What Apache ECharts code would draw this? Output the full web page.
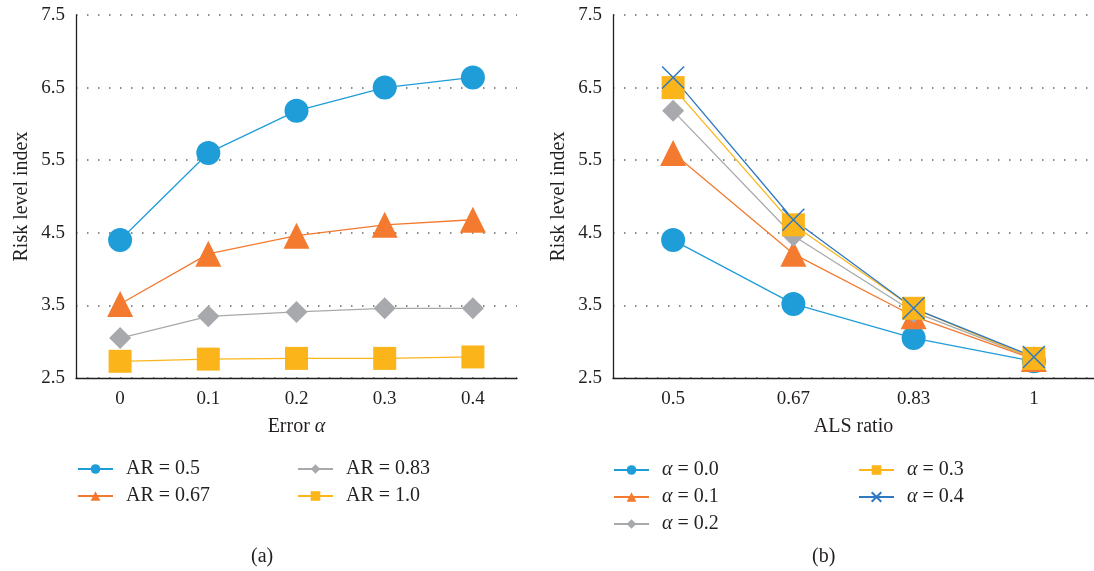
<!DOCTYPE html>
<html><head><meta charset="utf-8">
<script src="https://cdn.jsdelivr.net/npm/echarts@6/dist/echarts.min.js"></script>
<style>html,body{margin:0;padding:0;background:#fff}#c{width:1094px;height:571px}</style>
</head><body><div id="c"></div>
<script>
// Panel (a)
const errorCats = ['0', '0.1', '0.2', '0.3', '0.4'];
const ar05  = [4.40, 5.60, 6.18, 6.50, 6.64];
const ar067 = [3.52, 4.21, 4.46, 4.61, 4.68];
const ar083 = [3.05, 3.35, 3.41, 3.46, 3.46];
const ar10  = [2.73, 2.76, 2.77, 2.77, 2.79];
// Panel (b)
const alsCats = ['0.5', '0.67', '0.83', '1'];
const a00 = [4.40, 3.52, 3.05, 2.73];
const a01 = [5.60, 4.21, 3.35, 2.76];
const a02 = [6.18, 4.46, 3.41, 2.77];
const a03 = [6.50, 4.61, 3.46, 2.77];
const a04 = [6.64, 4.68, 3.46, 2.79];
const yTicks = ['2.5', '3.5', '4.5', '5.5', '6.5', '7.5'];

const FONT = '"Liberation Serif", "DejaVu Serif", serif';
const TXT = '#231f20';
const C_BLUE = '#1e9dd8', C_ORANGE = '#f37a2e', C_GRAY = '#a8a9ad', C_YELLOW = '#fbb51b', C_DBLUE = '#2f78c2';
const XPATH = 'path://M0,0L10,10M10,0L0,10';

const chart = echarts.init(document.getElementById('c'), null, {renderer: 'canvas'});

function yAxis(gi) {
  return {
    gridIndex: gi, type: 'value', min: 2.5, max: 7.5, interval: 1,
    name: 'Risk level index', nameLocation: 'middle', nameGap: 44,
    nameTextStyle: {fontFamily: FONT, fontSize: 20, color: TXT},
    axisLine: {show: true, lineStyle: {color: '#231f20', width: 1.3}},
    axisTick: {show: false},
    axisLabel: {fontFamily: FONT, fontSize: 19, color: TXT, margin: 11,
      formatter: v => yTicks.find(t => Math.abs(parseFloat(t) - v) < 1e-6) || ''},
    splitLine: {show: true, lineStyle: {color: '#666', type: [1.5, 9.5], width: 1.5}}
  };
}
function xAxis(gi, cats, name) {
  return {
    gridIndex: gi, type: 'category', data: cats, boundaryGap: true,
    name: name, nameLocation: 'middle', nameGap: 39,
    nameTextStyle: {fontFamily: FONT, fontSize: 20, color: TXT,
      rich: {i: {fontFamily: FONT, fontSize: 20, fontStyle: 'italic', color: TXT}}},
    axisLine: {show: true, lineStyle: {color: '#231f20', width: 1.3}},
    axisTick: {show: false},
    axisLabel: {fontFamily: FONT, fontSize: 19, color: TXT, margin: 12},
    splitLine: {show: false}
  };
}
function ser(name, data, gi, color, symbol, size, extra) {
  return Object.assign({
    name: name, type: 'line', xAxisIndex: gi, yAxisIndex: gi, data: data,
    symbol: symbol, symbolSize: size, showSymbol: true,
    lineStyle: {color: color, width: 1.3},
    itemStyle: {color: color},
    animation: false
  }, extra || {});
}
const legendText = {fontFamily: FONT, fontSize: 20, color: TXT, lineHeight: 20, padding: [0, 0, 0, 8],
  rich: {i: {fontFamily: FONT, fontSize: 20, fontStyle: 'italic', color: TXT, lineHeight: 20}}};
function legend(data, left, top) {
  return {data: data, left: left, top: top, orient: 'vertical', padding: 0,
    itemWidth: 35, itemHeight: 12, itemGap: 7, selectedMode: false,
    textStyle: legendText, formatter: n => n.replace('α', '{i|α}')};
}
const capStyle = {fontFamily: FONT, fontSize: 20, fontWeight: 'normal', color: TXT};

chart.setOption({
  backgroundColor: '#fff',
  animation: false,
  grid: [
    {left: 76, right: 577, top: 15, bottom: 193},
    {left: 613, right: -14, top: 15, bottom: 193}
  ],
  xAxis: [xAxis(0, errorCats, 'Error {i|α}'), xAxis(1, alsCats, 'ALS ratio')],
  yAxis: [yAxis(0), yAxis(1)],
  legend: [
    legend(['AR = 0.5', 'AR = 0.67'], 77, 459),
    legend(['AR = 0.83', 'AR = 1.0'], 297, 459),
    legend(['α = 0.0', 'α = 0.1', 'α = 0.2'], 613, 460),
    legend(['α = 0.3', 'α = 0.4'], 858, 460)
  ],
  title: [
    {text: '(a)', left: 251, top: 547, padding: 0, textStyle: capStyle},
    {text: '(b)', left: 812, top: 547, padding: 0, textStyle: capStyle}
  ],
  series: [
    ser('AR = 0.5', ar05, 0, C_BLUE, 'circle', 24),
    ser('AR = 0.67', ar067, 0, C_ORANGE, 'triangle', 26),
    ser('AR = 0.83', ar083, 0, C_GRAY, 'diamond', 22),
    ser('AR = 1.0', ar10, 0, C_YELLOW, 'rect', 23),
    ser('α = 0.0', a00, 1, C_BLUE, 'circle', 24),
    ser('α = 0.1', a01, 1, C_ORANGE, 'triangle', 26),
    ser('α = 0.2', a02, 1, C_GRAY, 'diamond', 22),
    ser('α = 0.3', a03, 1, C_YELLOW, 'rect', 23),
    ser('α = 0.4', a04, 1, C_DBLUE, XPATH, 22,
      {itemStyle: {color: 'rgba(0,0,0,0)', borderColor: C_DBLUE, borderWidth: 1.5}})
  ]
});
</script></body></html>
